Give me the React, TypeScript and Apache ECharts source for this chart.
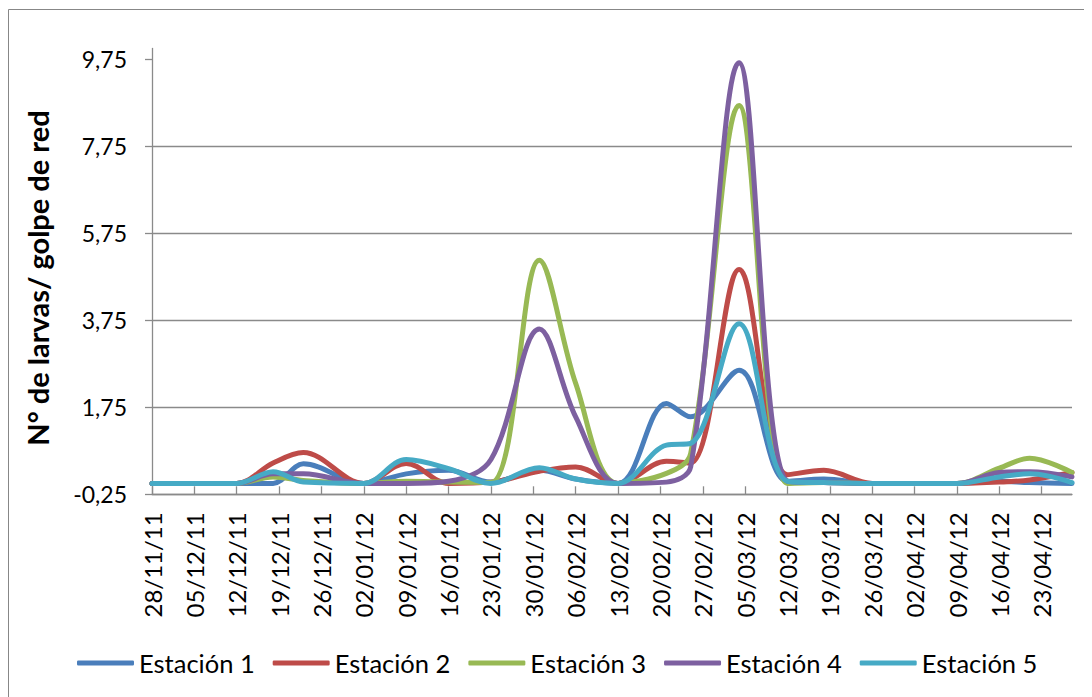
import React, { useEffect, useRef } from "react";
import * as echarts from "echarts";

// Sampling dates (ISO) and larvae counts per haul at each station
const sampleDates = [
  "2011-11-28", "2011-12-05", "2011-12-12", "2011-12-18", "2011-12-23",
  "2012-01-02", "2012-01-09", "2012-01-16", "2012-01-23", "2012-01-31",
  "2012-02-06", "2012-02-13", "2012-02-21", "2012-02-25", "2012-03-04",
  "2012-03-12", "2012-03-18", "2012-03-26", "2012-04-02", "2012-04-09",
  "2012-04-16", "2012-04-21", "2012-04-28",
];
const estacion1 = [0, 0, 0, 0, 0.45, 0, 0.22, 0.3, 0.03, 0.3, 0.1, 0, 1.84, 1.53, 2.6, 0.05, 0.1, 0, 0, 0, 0.05, 0.02, 0];
const estacion2 = [0, 0, 0, 0.47, 0.71, 0, 0.46, 0, 0.03, 0.28, 0.38, 0, 0.51, 0.47, 4.92, 0.2, 0.3, 0, 0, 0, 0.03, 0.08, 0.25];
const estacion3 = [0, 0, 0, 0.15, 0.07, 0, 0.05, 0.03, 0.02, 5.13, 2.3, 0, 0.23, 0.69, 8.69, 0, 0.02, 0, 0, 0, 0.35, 0.58, 0.25];
const estacion4 = [0, 0, 0, 0.22, 0.22, 0, 0, 0.05, 0.55, 3.55, 1.53, 0, 0.03, 0.38, 9.67, 0.05, 0.02, 0, 0, 0, 0.25, 0.27, 0.15];
const estacion5 = [0, 0, 0, 0.27, 0.03, 0, 0.55, 0.34, 0, 0.36, 0.1, 0, 0.88, 0.92, 3.67, 0.05, 0.02, 0, 0, 0, 0.15, 0.22, 0.02];

const seriesNames = ["Estación 1", "Estación 2", "Estación 3", "Estación 4", "Estación 5"];
const seriesValues = [estacion1, estacion2, estacion3, estacion4, estacion5];
const seriesColors = ["#4A7EBB", "#BE4B48", "#98B954", "#7D60A0", "#46AAC5"];

// Weekly date-axis labels and value-axis ticks
const weekLabels = [
  "28/11/11", "05/12/11", "12/12/11", "19/12/11", "26/12/11", "02/01/12",
  "09/01/12", "16/01/12", "23/01/12", "30/01/12", "06/02/12", "13/02/12",
  "20/02/12", "27/02/12", "05/03/12", "12/03/12", "19/03/12", "26/03/12",
  "02/04/12", "09/04/12", "16/04/12", "23/04/12",
];
const yTicks = [-0.25, 1.75, 3.75, 5.75, 7.75, 9.75];
const axisStart = "2011-11-28";
const axisEnd = "2012-04-28";

const yTitle = "N° de larvas/ golpe de red";
const FONT = "Lato, 'Liberation Sans', sans-serif";
const GRID_GRAY = "#8a8a8a";

const DAY_MS = 86400000;
const isoToMs = (iso: string) => Date.parse(iso + "T00:00:00Z");
const dayOf = (iso: string) => Math.round((isoToMs(iso) - isoToMs(axisStart)) / DAY_MS);
const labelToIso = (lbl: string) => {
  const [d, m, y] = lbl.split("/");
  return `20${y}-${m}-${d}`;
};

const weekDays = weekLabels.map((l) => dayOf(labelToIso(l)));
const labelByDay = new Map(weekDays.map((d, i) => [d, weekLabels[i]]));
const sampleDays = sampleDates.map(dayOf);

export default function App() {
  const ref = useRef<HTMLDivElement>(null);

  useEffect(() => {
    if (!ref.current) return;
    const chart = echarts.init(ref.current, undefined, { renderer: "svg" });

    chart.setOption({
      animation: false,
      backgroundColor: "#ffffff",
      textStyle: { fontFamily: FONT },
      grid: { left: 144, right: 20, top: 40.4, height: 445.9 },
      graphic: [
        {
          type: "rect",
          shape: { x: 0.5, y: 1.5, width: 3000, height: 3000 },
          style: { fill: "none", stroke: "#878787", lineWidth: 1 },
          silent: true,
        },
        {
          type: "text",
          x: 29,
          y: 270,
          rotation: Math.PI / 2,
          style: {
            text: yTitle,
            fontFamily: FONT,
            fontWeight: "bold",
            fontSize: 29,
            fill: "#000",
            align: "center",
            verticalAlign: "middle",
          },
        },
      ],
      legend: {
        left: 64,
        top: 636,
        icon: "roundRect",
        itemWidth: 57,
        itemHeight: 5,
        itemGap: 18,
        textStyle: { fontSize: 25.5, fontFamily: FONT, color: "#000", lineHeight: 28 },
        data: seriesNames,
      },
      xAxis: {
        type: "value",
        min: dayOf(axisStart),
        max: dayOf(axisEnd),
        interval: 7,
        axisLine: { show: true, onZero: false, lineStyle: { color: GRID_GRAY, width: 1.3 } },
        axisTick: {
          show: true,
          inside: true,
          length: 8,
          customValues: weekDays,
          lineStyle: { color: GRID_GRAY, width: 1.3 },
        },
        axisLabel: {
          customValues: weekDays,
          rotate: 90,
          margin: 18,
          fontSize: 24,
          fontFamily: FONT,
          color: "#000",
          formatter: (v: number) => labelByDay.get(Math.round(v)) ?? "",
        },
        splitLine: { show: false },
      },
      yAxis: {
        type: "value",
        min: -0.25,
        max: 10,
        interval: 2,
        axisLine: { show: true, lineStyle: { color: GRID_GRAY, width: 1.3 } },
        axisTick: {
          show: true,
          length: 7,
          customValues: yTicks,
          lineStyle: { color: GRID_GRAY, width: 1.3 },
        },
        axisLabel: {
          customValues: yTicks,
          margin: 25,
          fontSize: 23,
          fontFamily: FONT,
          color: "#000",
          formatter: (v: number) => v.toFixed(2).replace(".", ","),
        },
        splitLine: {
          show: true,
          showMaxLine: false,
          lineStyle: { color: GRID_GRAY, width: 1.3 },
        },
      },
      series: seriesNames.map((name, si) => ({
        name,
        type: "line",
        smooth: 0.35,
        symbol: "none",
        color: seriesColors[si],
        lineStyle: { width: 5, color: seriesColors[si], cap: "round", join: "round" },
        data: sampleDays.map((d, i) => [d, seriesValues[si][i]]),
        z: 2 + si,
      })),
    });

    return () => chart.dispose();
  }, []);

  return <div ref={ref} style={{ width: 1084, height: 689 }} />;
}
